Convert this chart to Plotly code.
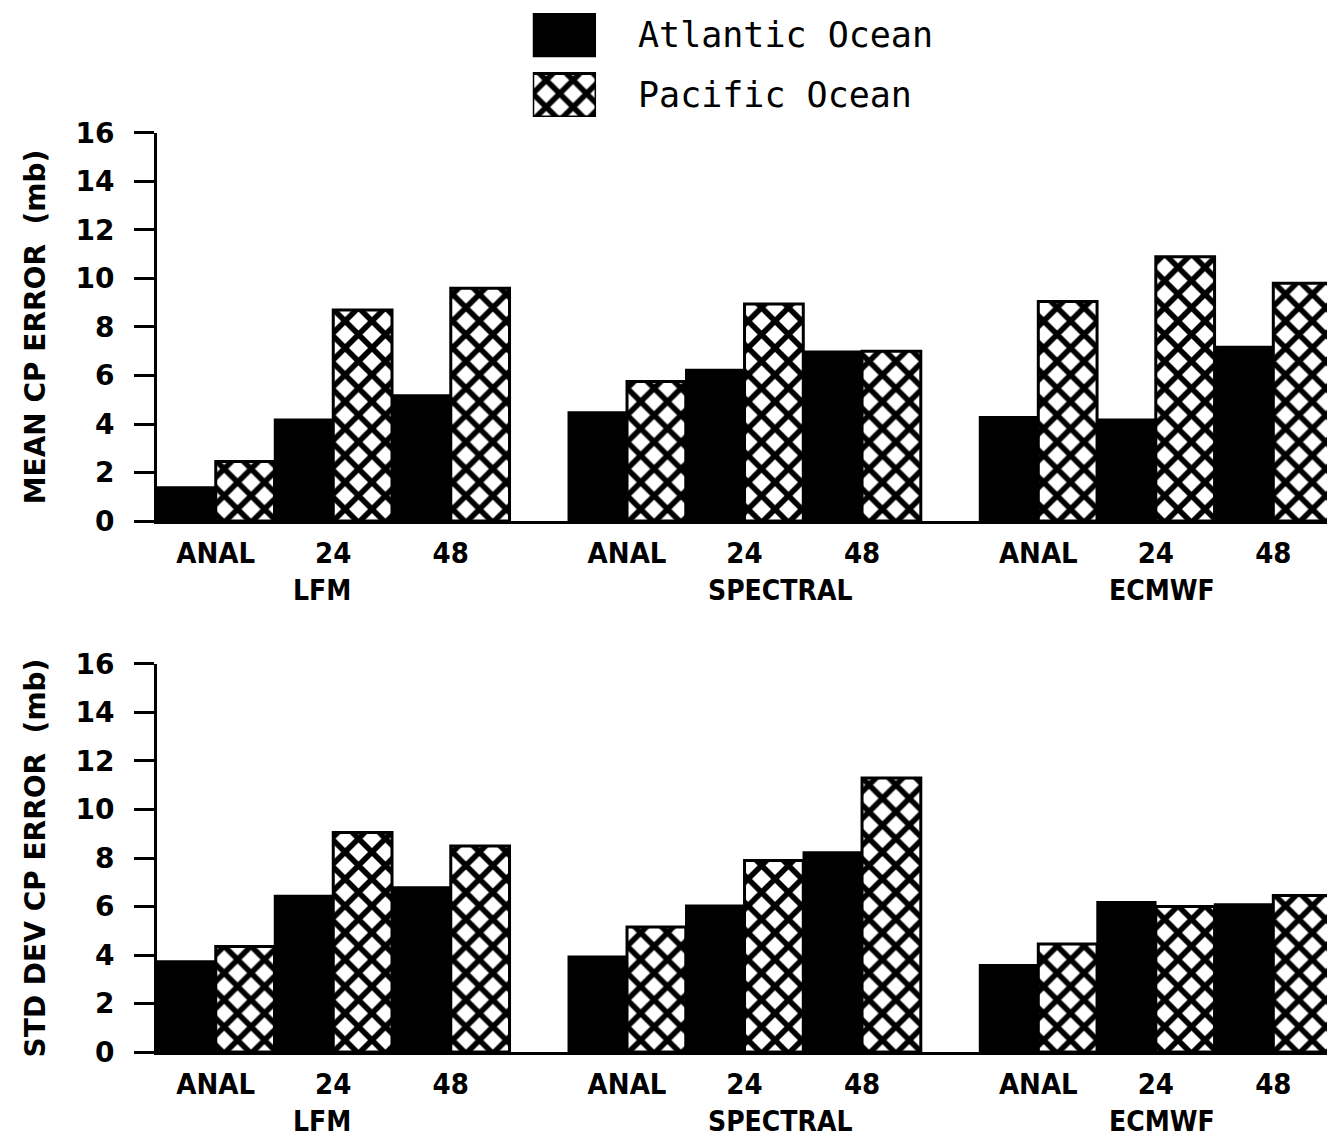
import plotly.graph_objects as go

# ---------------- data ----------------
models = ["LFM", "SPECTRAL", "ECMWF"]
times = ["ANAL", "24", "48"]
series = ["Atlantic Ocean", "Pacific Ocean"]

mean_atlantic = [1.4, 4.2, 5.2, 4.5, 6.25, 7.0, 4.3, 4.2, 7.2]
mean_pacific = [2.45, 8.7, 9.6, 5.75, 8.95, 7.0, 9.05, 10.9, 9.8]
std_atlantic = [3.75, 6.45, 6.8, 3.95, 6.05, 8.25, 3.6, 6.2, 6.1]
std_pacific = [4.35, 9.05, 8.5, 5.15, 7.9, 11.3, 4.45, 6.0, 6.45]

y_ticks = [0, 2, 4, 6, 8, 10, 12, 14, 16]
titles = ["MEAN CP ERROR\u00a0\u00a0(mb)", "STD DEV CP ERROR\u00a0\u00a0(mb)"]

# ---------------- layout helpers ----------------
GROUP_SLOTS = 7  # 6 bars + 1 empty slot between model groups
def bar_pos(g, t, s):
    return g * GROUP_SLOTS + t * 2 + s

xs_atl = [bar_pos(g, t, 0) for g in range(len(models)) for t in range(len(times))]
xs_pac = [bar_pos(g, t, 1) for g in range(len(models)) for t in range(len(times))]
tickvals = [bar_pos(g, t, 0.5) for g in range(len(models)) for t in range(len(times))]
ticktext = [times[t] for g in range(len(models)) for t in range(len(times))]
model_label_x = [2.3, 10.1, 16.6]

TICK_FONT = dict(family="DejaVu Sans Condensed, DejaVu Sans, Liberation Sans", size=29, color="black", weight="bold")
MODEL_FONT = dict(family="DejaVu Sans Condensed, DejaVu Sans, Liberation Sans", size=28, color="black", weight="bold")
MONO = dict(family="DejaVu Sans Mono, Liberation Mono", size=35, color="black")
HATCH = dict(shape="x", size=19, solidity=0.5, fgcolor="black", fgopacity=1, bgcolor="white")

fig = go.Figure()

panels = [(mean_atlantic, mean_pacific, "x", "y"), (std_atlantic, std_pacific, "x2", "y2")]
for i, (atl, pac, xa, ya) in enumerate(panels):
    fig.add_trace(go.Bar(x=xs_atl, y=atl, width=1, xaxis=xa, yaxis=ya, name=series[0],
                         marker=dict(color="black", line=dict(color="black", width=1.5)),
                         showlegend=False))
    fig.add_trace(go.Bar(x=xs_pac, y=pac, width=1, xaxis=xa, yaxis=ya, name=series[1],
                         marker=dict(color="white", line=dict(color="black", width=3), pattern=HATCH),
                         showlegend=False))

# legend swatches drawn as bars in a small auxiliary axis
fig.add_trace(go.Bar(y=[1], x=[1], orientation="h", width=0.72, xaxis="x3", yaxis="y3",
                     marker=dict(color="black", line=dict(color="black", width=1.5)), showlegend=False))
fig.add_trace(go.Bar(y=[0], x=[1], orientation="h", width=0.72, xaxis="x3", yaxis="y3",
                     marker=dict(color="white", line=dict(color="black", width=3), pattern=HATCH),
                     showlegend=False))

xcommon = dict(range=[-0.5, 19.55], tickvals=tickvals, ticktext=ticktext, showline=True,
               linecolor="black", linewidth=3, ticks="", showgrid=False, zeroline=False,
               tickfont=TICK_FONT, ticklabelstandoff=4, automargin=False)
ycommon = dict(range=[0, 16], tickvals=y_ticks, showline=True, linecolor="black", linewidth=3,
               ticks="outside", ticklen=20, tickwidth=3, tickcolor="black", showgrid=False,
               zeroline=False, tickfont=dict(family="DejaVu Sans, Liberation Sans", size=28,
                                             color="black", weight="bold"),
               ticklabelstandoff=14, automargin=False)
TITLE_FONT = dict(family="DejaVu Sans, Liberation Sans", size=28, color="black", weight="bold")

# page body has an 8px margin: the figure is sized/positioned to compensate
fig.update_layout(
    width=1327, height=1131,
    margin=dict(l=149, r=0, t=0, b=0, pad=0, autoexpand=False),
    paper_bgcolor="white", plot_bgcolor="white",
    barmode="overlay", showlegend=False,
    xaxis=dict(domain=[0, 1], anchor="y", **xcommon),
    yaxis=dict(domain=[0.5464, 0.8895], anchor="x",
               title=dict(text=titles[0], font=TITLE_FONT, standoff=22), **ycommon),
    xaxis2=dict(domain=[0, 1], anchor="y2", **xcommon),
    yaxis2=dict(domain=[0.0769, 0.4200], anchor="x2",
                title=dict(text=titles[1], font=TITLE_FONT, standoff=22), **ycommon),
    xaxis3=dict(domain=[0.319, 0.3727], anchor="y3", range=[0, 1], visible=False),
    yaxis3=dict(domain=[0.9036, 0.9956], anchor="x3", range=[-0.36, 1.36], visible=False),
)

# legend texts
fig.add_annotation(xref="paper", yref="y3", x=0.4066, y=1, text=series[0], showarrow=False,
                   xanchor="left", yanchor="middle", font=MONO)
fig.add_annotation(xref="paper", yref="y3", x=0.4066, y=0, text=series[1], showarrow=False,
                   xanchor="left", yanchor="middle", font=MONO)

# model group labels
for ya, xa in (("y", "x"), ("y2", "x2")):
    for m, mx in zip(models, model_label_x):
        fig.add_annotation(xref=xa, yref=ya + " domain", x=mx, y=0, yshift=-69, text=m,
                           showarrow=False, xanchor="center", yanchor="middle", font=MODEL_FONT)

fig.write_html("out.html")
